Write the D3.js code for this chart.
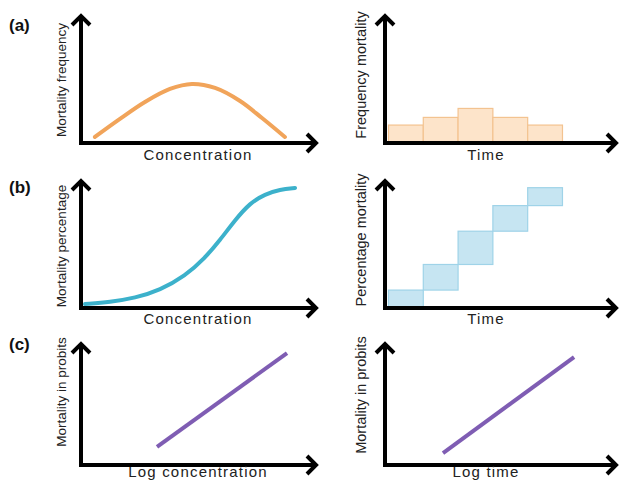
<!DOCTYPE html>
<html>
<head>
<meta charset="utf-8">
<script src="https://cdn.jsdelivr.net/npm/d3@7"></script>
<style>
  body { margin: 0; background: #fff; }
  svg { display: block; font-family: "Liberation Sans", Arial, sans-serif; }
</style>
</head>
<body>
<div id="chart"></div>
<script>
const width = 622;
const height = 481;

// (a) left: bell-shaped mortality frequency vs concentration
const bellConc = [5.9, 16.5, 27.1, 37.7, 47, 56.8, 67.4, 76.7, 86.4];
const bellFreq = [4.7, 18.8, 32, 42.2, 46.1, 43, 32.8, 19.5, 4.7];

// (a) right: frequency histogram over time
const binEdges = [1.5, 16.5, 31.5, 46.5, 61.5, 76.5];
const histFreq = [14, 20, 27, 20, 14];

// (b) left: sigmoid mortality percentage vs concentration
const sigConc = [1.7, 12.3, 22.9, 33.5, 44.1, 52.5, 58.9, 65.3, 71.6, 78, 84.3, 90.7];
const sigPct = [3.1, 4.7, 7.8, 14, 25, 39, 53, 68.8, 82, 89, 92.6, 93.8];

// (b) right: cumulative mortality steps over time
const stepLevels = [0, 14, 34, 60, 80, 94];

// (c) probit lines
const probitConc = [32.2, 87.3];
const probitConcY = [14.8, 91.8];
const probitTime = [25, 81.5];
const probitTimeY = [9.8, 88.5];

const tags = ["(a)", "(b)", "(c)"];

const svg = d3.select("#chart")
    .append("svg")
    .attr("width", width)
    .attr("height", height);

// panel frames: origin of axes and arrow tips
const panels = [
    { x0: 81, x1: 317, y0: 143, y1: 15, ylab: "Mortality frequency", xlab: "Concentration", lx: 66, ly: 80, fs: 13.5, xlabY: 160 },
    { x0: 385, x1: 617, y0: 143, y1: 15, ylab: "Frequency mortality", xlab: "Time", lx: 366, ly: 75, fs: 14.5, xlabY: 160 },
    { x0: 81, x1: 317, y0: 308, y1: 180, ylab: "Mortality percentage", xlab: "Concentration", lx: 66, ly: 246, fs: 13.5, xlabY: 324 },
    { x0: 385, x1: 617, y0: 308, y1: 180, ylab: "Percentage mortality", xlab: "Time", lx: 366, ly: 240, fs: 14.5, xlabY: 324 },
    { x0: 81, x1: 317, y0: 465, y1: 343, ylab: "Mortality in probits", xlab: "Log concentration", lx: 66, ly: 392, fs: 13.5, xlabY: 477 },
    { x0: 385, x1: 617, y0: 465, y1: 343, ylab: "Mortality in probits", xlab: "Log time", lx: 366, ly: 395, fs: 14.5, xlabY: 477 }
];

panels.forEach(p => {
    p.x = d3.scaleLinear().domain([0, 100]).range([p.x0, p.x1]);
    p.y = d3.scaleLinear().domain([0, 100]).range([p.y0, p.y1]);
});

const pA = panels[0], pAr = panels[1], pB = panels[2], pBr = panels[3], pC = panels[4], pCr = panels[5];

// marks first so axes sit on top
svg.append("path")
    .datum(d3.zip(bellConc, bellFreq))
    .attr("fill", "none")
    .attr("stroke", "#f1a45a")
    .attr("stroke-width", 4)
    .attr("stroke-linecap", "round")
    .attr("d", d3.line().x(d => pA.x(d[0])).y(d => pA.y(d[1])).curve(d3.curveCatmullRom));

svg.selectAll(".hist")
    .data(histFreq)
    .enter()
    .append("rect")
    .attr("class", "hist")
    .attr("x", (d, i) => pAr.x(binEdges[i]))
    .attr("width", (d, i) => pAr.x(binEdges[i + 1]) - pAr.x(binEdges[i]))
    .attr("y", d => pAr.y(d))
    .attr("height", d => pAr.y(0) - pAr.y(d))
    .attr("fill", "#fde4ca")
    .attr("stroke", "#f3c390")
    .attr("stroke-width", 1.2);

svg.append("path")
    .datum(d3.zip(sigConc, sigPct))
    .attr("fill", "none")
    .attr("stroke", "#3cb1cb")
    .attr("stroke-width", 4)
    .attr("stroke-linecap", "round")
    .attr("d", d3.line().x(d => pB.x(d[0])).y(d => pB.y(d[1])).curve(d3.curveBasis));

svg.selectAll(".step")
    .data(stepLevels.slice(1))
    .enter()
    .append("rect")
    .attr("class", "step")
    .attr("x", (d, i) => pBr.x(binEdges[i]))
    .attr("width", (d, i) => pBr.x(binEdges[i + 1]) - pBr.x(binEdges[i]))
    .attr("y", d => pBr.y(d))
    .attr("height", (d, i) => pBr.y(stepLevels[i]) - pBr.y(d))
    .attr("fill", "#c6e5f2")
    .attr("stroke", "#9fd3e8")
    .attr("stroke-width", 1.2);

[[pC, probitConc, probitConcY], [pCr, probitTime, probitTimeY]].forEach(([p, xs, ys]) => {
    svg.append("path")
        .datum(d3.zip(xs, ys))
        .attr("fill", "none")
        .attr("stroke", "#7f5db3")
        .attr("stroke-width", 4)
        .attr("d", d3.line().x(d => p.x(d[0])).y(d => p.y(d[1])));
});

// axes with open arrowheads
panels.forEach(p => {
    const g = svg.append("g")
        .attr("fill", "none")
        .attr("stroke", "#000")
        .attr("stroke-width", 4);
    const ox = p.x(0), oy = p.y(0), tx = p.x(100), ty = p.y(100);
    g.append("path").attr("d", `M${ox},${oy} V${ty + 1}`);
    g.append("path").attr("d", `M${ox - 2},${oy} H${tx - 1}`);
    g.append("path")
        .attr("stroke-linejoin", "miter")
        .attr("d", `M${ox - 9},${ty + 10} L${ox},${ty + 1} L${ox + 9},${ty + 10}`);
    g.append("path")
        .attr("stroke-linejoin", "miter")
        .attr("d", `M${tx - 10},${oy - 9} L${tx - 1},${oy} L${tx - 10},${oy + 9}`);

    svg.append("text")
        .attr("transform", `translate(${p.lx},${p.ly}) rotate(-90)`)
        .attr("text-anchor", "middle")
        .attr("font-family", "'Liberation Sans Narrow', 'Liberation Sans', sans-serif")
        .attr("font-size", p.fs + "px")
        .attr("fill", "#222")
        .text(p.ylab);

    svg.append("text")
        .attr("x", (p.x0 + p.x1) / 2 + (p.x0 > 300 ? -15 : -1))
        .attr("y", p.xlabY)
        .attr("text-anchor", "middle")
        .attr("font-size", "15px")
        .attr("letter-spacing", "1.2px")
        .attr("fill", "#222")
        .text(p.xlab);
});

// panel tags
svg.selectAll(".tag")
    .data(tags)
    .enter()
    .append("text")
    .attr("class", "tag")
    .attr("x", 9)
    .attr("y", (d, i) => [31, 193, 350][i])
    .attr("font-size", "17px")
    .attr("font-weight", "bold")
    .attr("fill", "#111")
    .text(d => d);
</script>
</body>
</html>
